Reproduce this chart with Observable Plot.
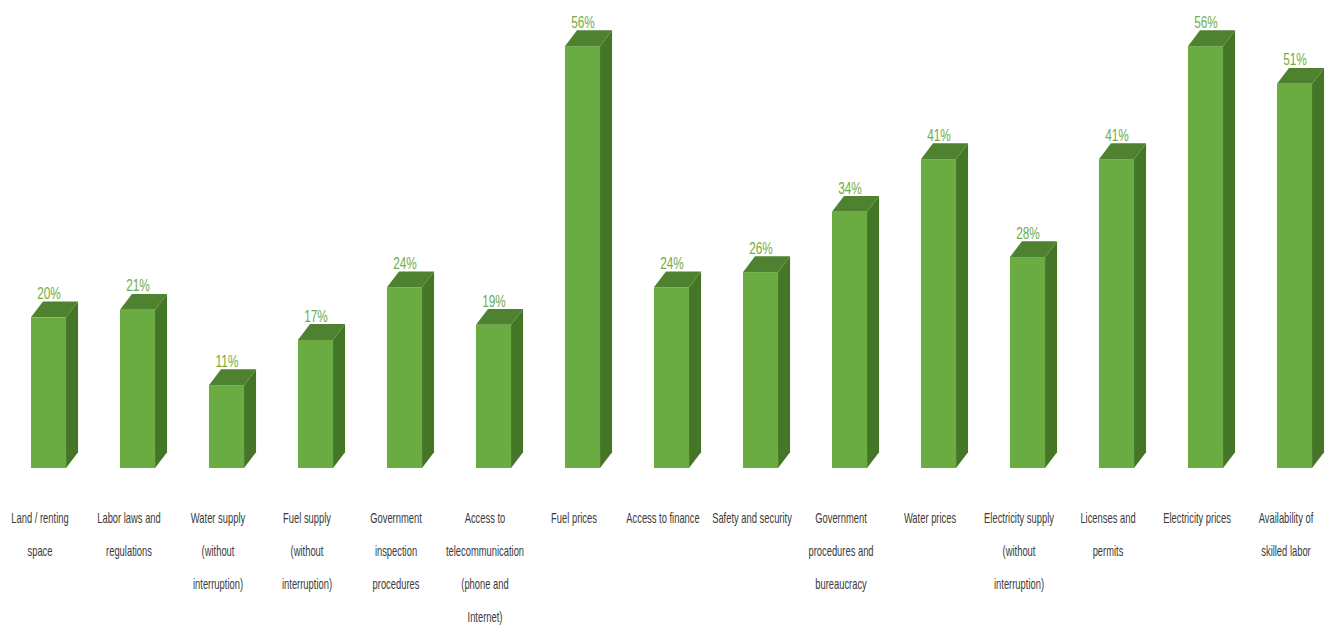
<!DOCTYPE html>
<html>
<head>
<meta charset="utf-8">
<script src="https://cdn.jsdelivr.net/npm/d3@7"></script>
<script src="https://cdn.jsdelivr.net/npm/@observablehq/plot@0.6"></script>
<style>
  html, body { margin: 0; padding: 0; background: #fff; }
  #chart svg text { font-family: "Liberation Sans Narrow", "Liberation Sans", Arial, sans-serif; }
</style>
</head>
<body>
<div id="chart"></div>
<script>
const categories = [
  "Land / renting\nspace",
  "Labor laws and\nregulations",
  "Water supply\n(without\ninterruption)",
  "Fuel supply\n(without\ninterruption)",
  "Government\ninspection\nprocedures",
  "Access to\ntelecommunication\n(phone and\nInternet)",
  "Fuel prices",
  "Access to finance",
  "Safety and security",
  "Government\nprocedures and\nbureaucracy",
  "Water prices",
  "Electricity supply\n(without\ninterruption)",
  "Licenses and\npermits",
  "Electricity prices",
  "Availability of\nskilled labor"
];
const values = [20, 21, 11, 17, 24, 19, 56, 24, 26, 34, 41, 28, 41, 56, 51];

const colors = { front: "#6aac41", topFace: "#4e8231", sideFace: "#457627", label: "#70ad47", text: "#3a3a3a" };

// 3D geometry (in scale units)
const hw = 0.197;   // half width of the front face
const dx = 0.135;   // depth, horizontal
const dz = 2.1;     // depth, vertical (percent units)
const squeezeValues = 0.74;  // horizontal condensing of value labels
const squeezeCats = 0.67;    // horizontal condensing of category labels

const data = values.map((v, i) => ({ i, value: v, label: categories[i] }));

const sidePts = data.flatMap(d => [
  { i: d.i, x: d.i + hw, y1: 0, y2: d.value },
  { i: d.i, x: d.i + hw + dx, y1: dz, y2: d.value + dz }
]);
const topPts = data.flatMap(d => [
  { i: d.i, x: d.i - hw, y1: d.value, y2: d.value },
  { i: d.i, x: d.i - hw + dx, y1: d.value, y2: d.value + dz },
  { i: d.i, x: d.i + hw, y1: d.value, y2: d.value + dz },
  { i: d.i, x: d.i + hw + dx, y1: d.value + dz, y2: d.value + dz }
]);

const chart = Plot.plot({
  width: 1332,
  height: 627,
  marginLeft: 0,
  marginRight: 0,
  marginTop: 16,
  marginBottom: 159,
  x: { type: "linear", domain: [-48.5 / 89, (1332 - 48.5) / 89], axis: null },
  y: { domain: [0, 60], axis: null },
  marks: [
    Plot.areaY(sidePts, { x: "x", y1: "y1", y2: "y2", z: "i", fill: colors.sideFace }),
    Plot.areaY(topPts, { x: "x", y1: "y1", y2: "y2", z: "i", fill: colors.topFace }),
    Plot.rectY(data, { x1: d => d.i - hw, x2: d => d.i + hw, y1: 0, y2: "value", fill: colors.front, inset: 0 }),
    Plot.text(data, {
      x: "i", y: d => d.value + dz, text: d => d.value + "%",
      lineAnchor: "bottom", dy: -3, fill: colors.label, fontSize: 16
    }),
    Plot.text(data, {
      x: "i", frameAnchor: "bottom", text: "label",
      lineAnchor: "top", dy: 31, dx: -9, lineHeight: 2.36,
      fill: colors.text, fontSize: 14
    })
  ]
});
// condense the text glyphs horizontally (narrow font look)
const textGroups = d3.select(chart).selectAll("g[aria-label=text]").nodes();
textGroups.forEach((g, k) => {
  const s = k === 0 ? squeezeValues : squeezeCats;
  d3.select(g).selectAll("text").each(function () {
    const t = this.getAttribute("transform") || "";
    this.setAttribute("transform", t + ` scale(${s},1)`);
  });
});
document.getElementById("chart").appendChild(chart);
</script>
</body>
</html>
